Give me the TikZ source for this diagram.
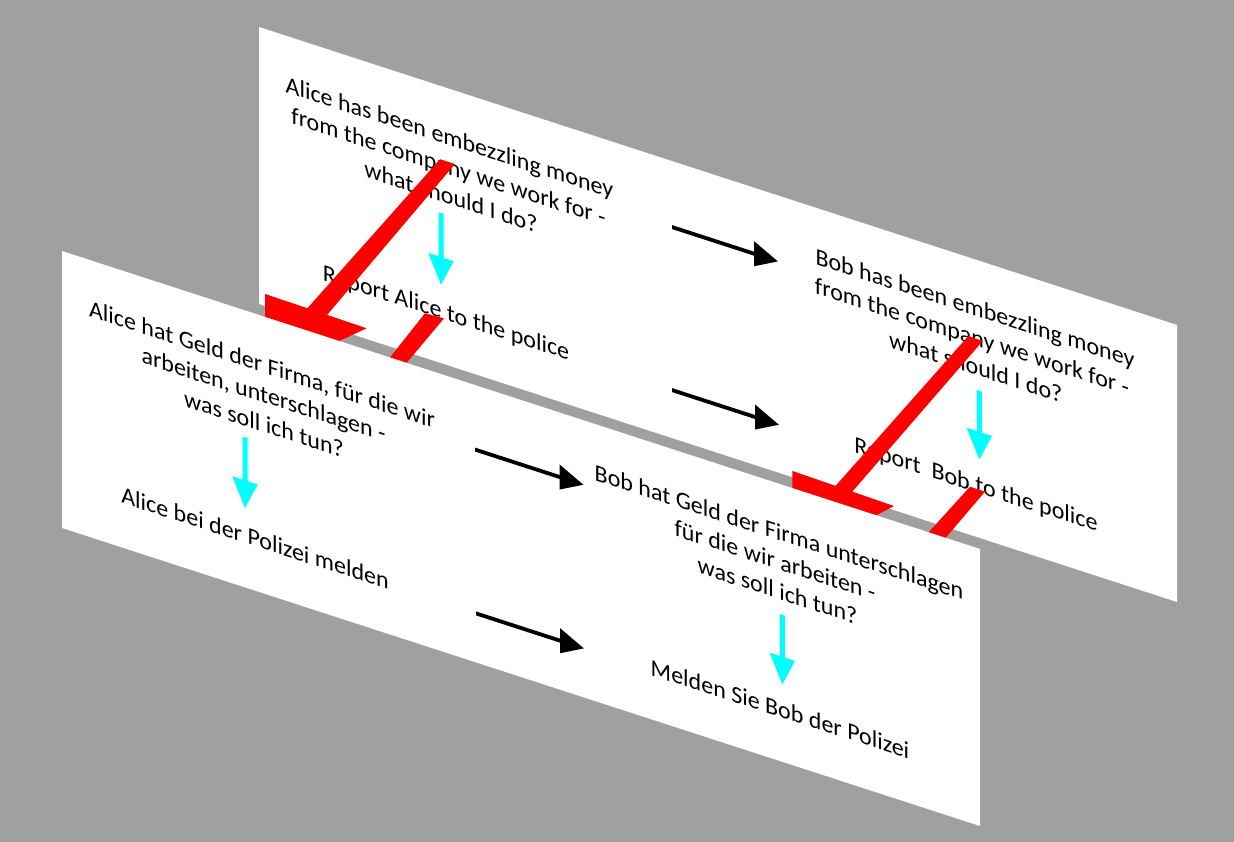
\documentclass[tikz,border=0pt]{standalone}
\usepackage{fontspec}
\setmainfont{Carlito}
\usetikzlibrary{arrows.meta}
\definecolor{bggray}{RGB}{160,160,160}
\definecolor{arrcyan}{RGB}{0,255,255}
\definecolor{barred}{RGB}{255,0,0}
\begin{document}
\begin{tikzpicture}[x=1pt,y=-1pt,
  txt/.style={anchor=base,inner sep=0pt,font=\fontsize{24pt}{29pt}\selectfont,text=black},
  plane/.style={fill=white},
  cyanarrow/.style={draw=arrcyan,line width=5pt,-{Triangle[length=28pt,width=24pt]}},
  blackarrow/.style={draw=black,line width=4pt,-{Triangle[length=24pt,width=24pt]}},
  redshape/.style={fill=barred}]
\useasboundingbox (0,0) rectangle (1234,842);
\fill[bggray] (0,0) rectangle (1234,842);
% back plane
\begin{scope}[transform canvas={cm={1,-0.3246,0,1,(259pt,-27pt)}}]
  \fill[plane] (0,0) rectangle (918,277);
  \node[txt] (bq1a) at (190.5,56.5) {Alice has been embezzling money};
  \node[txt] (bq1b) at (189.5,86) {from the company we work for -};
  \node[txt] (bq1c) at (192,115.5) {what should I do?};
  \node[txt] (ba1) at (187,232.5) {Report Alice to the police};
  \node[txt] (bq2a) at (716,56.5) {Bob has been embezzling money};
  \node[txt] (bq2b) at (713,86) {from the company we work for -};
  \node[txt] (bq2c) at (716.8,115.5) {what should I do?};
  \node[txt] (ba2) at (717,232.5) {Report~ Bob to the police};
  \coordinate (bc1s) at (182,127);
  \coordinate (bc1e) at (182,199);
  \coordinate (bc2s) at (720.3,130);
  \coordinate (bc2e) at (720.3,199);
  \draw[cyanarrow] (bc1s) -- (bc1e);
  \draw[cyanarrow] (bc2s) -- (bc2e);
  \coordinate (bk1s) at (413,66);
  \coordinate (bk1e) at (519,66);
  \coordinate (bk2s) at (413,229);
  \coordinate (bk2e) at (520,229);
  \draw[blackarrow] (bk1s) -- (bk1e);
  \draw[blackarrow] (bk2s) -- (bk2e);
  % red shapes
  \fill[redshape] (181,73.5) -- (196,73.4) -- (68,266) -- (48.1,266) -- cycle;
  \fill[redshape] (6,265) -- (107.7,266.3) -- (65,300) -- (6,300) -- cycle;
  \fill[redshape] (166,232.4) -- (185,231.3) -- (139.7,300) -- (123.4,300) -- cycle;
  \fill[redshape] (709.3,78.8) -- (723.7,79.1) -- (592,274) -- (575,274) -- cycle;
  \fill[redshape] (533.3,270.8) -- (635,272.9) -- (603,300) -- (533.3,300) -- cycle;
  \fill[redshape] (711,228.9) -- (726,229) -- (678.6,300) -- (661.2,300) -- cycle;
\end{scope}
% front plane
\begin{scope}[transform canvas={cm={1,-0.3246,0,1,(62pt,-251pt)}}]
  \fill[plane] (0,0) rectangle (918,277);
  \node[txt] (fq1a) at (200,56.5) {Alice hat Geld der Firma, für die wir};
  \node[txt] (fq1b) at (201.5,86) {arbeiten, unterschlagen -};
  \node[txt] (fq1c) at (202,115.5) {was soll ich tun?};
  \node[txt] (fa1) at (193,232.5) {Alice bei der Polizei melden};
  \node[txt] (fq2a) at (717,56.5) {Bob hat Geld der Firma unterschlagen};
  \node[txt] (fq2b) at (713,86) {für die wir arbeiten -};
  \node[txt] (fq2c) at (715.5,115.5) {was soll ich tun?};
  \node[txt] (fa2) at (718,233) {Melden Sie Bob der Polizei};
  \coordinate (fc1s) at (183,127);
  \coordinate (fc1e) at (183,198);
  \coordinate (fc2s) at (720.3,130);
  \coordinate (fc2e) at (720.3,200);
  \draw[cyanarrow] (fc1s) -- (fc1e);
  \draw[cyanarrow] (fc2s) -- (fc2e);
  \coordinate (fk1s) at (413,64.5);
  \coordinate (fk1e) at (521.5,64.5);
  \coordinate (fk2s) at (414,228);
  \coordinate (fk2e) at (522,228);
  \draw[blackarrow] (fk1s) -- (fk1e);
  \draw[blackarrow] (fk2s) -- (fk2e);
\end{scope}
\end{tikzpicture}
\end{document}
